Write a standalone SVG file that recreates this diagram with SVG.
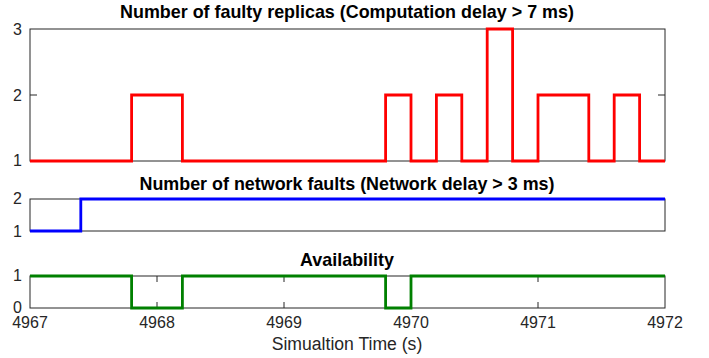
<svg xmlns="http://www.w3.org/2000/svg" width="709" height="358" viewBox="0 0 709 358">
<style>
.ax{fill:none;stroke:#262626;stroke-width:1}
.tk{stroke:#262626;stroke-width:1}
.tl{font-family:"Liberation Sans",Arial,sans-serif;font-size:16px;fill:#262626}
.ttl{font-family:"Liberation Sans",Arial,sans-serif;font-size:17.9px;font-weight:bold;fill:#000;text-anchor:middle}
.xl{font-family:"Liberation Sans",Arial,sans-serif;font-size:17.6px;fill:#262626;text-anchor:middle}
.dat{fill:none;stroke-width:2.8;stroke-linejoin:miter;stroke-linecap:butt}
</style>
<rect width="709" height="358" fill="#fff"/>
<g id="plot-faulty-replicas">
<rect class="ax" x="30" y="29" width="635" height="132"/>
<path class="tk" d="M30 95H37M665 95H658"/>
<g class="tl" text-anchor="end">
<text x="22" y="34.5">3</text>
<text x="22" y="100.5">2</text>
<text x="22" y="166">1</text>
</g>
<text class="ttl" x="347" y="18">Number of faulty replicas (Computation delay &gt; 7 ms)</text>
<polyline class="dat" stroke="#ff0000" points="30,161 131.6,161 131.6,95 182.4,95 182.4,161 385.6,161 385.6,95 411,95 411,161 436.4,161 436.4,95 461.8,95 461.8,161 487.2,161 487.2,29 512.6,29 512.6,161 538,161 538,95 588.8,95 588.8,161 614.2,161 614.2,95 639.6,95 639.6,161 665,161"/>
</g>
<g id="plot-network-faults">
<rect class="ax" x="30" y="199" width="635" height="32"/>
<g class="tl" text-anchor="end">
<text x="22" y="204">2</text>
<text x="22" y="236.5">1</text>
</g>
<text class="ttl" x="347" y="190">Number of network faults (Network delay &gt; 3 ms)</text>
<polyline class="dat" stroke="#0000ff" points="30,231 80.8,231 80.8,199 665,199"/>
</g>
<g id="plot-availability">
<rect class="ax" x="30" y="276" width="635" height="32"/>
<path class="tk" d="M157 308V302M284 308V302M411 308V302M538 308V302M157 276V282M284 276V282M411 276V282M538 276V282"/>
<g class="tl" text-anchor="end">
<text x="22" y="280.5">1</text>
<text x="22" y="313">0</text>
</g>
<g class="tl" text-anchor="middle">
<text x="30" y="327.5">4967</text>
<text x="157" y="327.5">4968</text>
<text x="284" y="327.5">4969</text>
<text x="411" y="327.5">4970</text>
<text x="538" y="327.5">4971</text>
<text x="665" y="327.5">4972</text>
</g>
<text class="ttl" x="347" y="266">Availability</text>
<polyline class="dat" stroke="#008000" points="30,276 131.6,276 131.6,308 182.4,308 182.4,276 385.6,276 385.6,308 411,308 411,276 665,276"/>
<text class="xl" x="347" y="350">Simualtion Time (s)</text>
</g>
</svg>
